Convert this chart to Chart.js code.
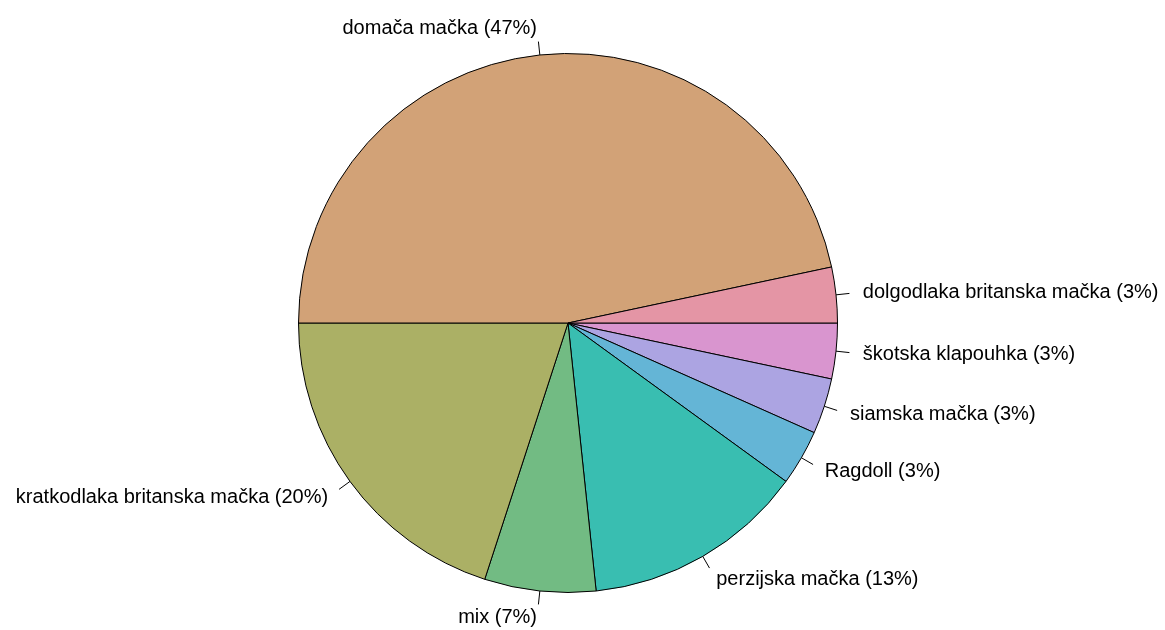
<!doctype html>
<html lang="sl">
<head>
<meta charset="UTF-8" />
<title>Pasme mačk</title>
<script src="https://cdn.jsdelivr.net/npm/chart.js"></script>
<style>
  html, body { margin: 0; padding: 0; background: #fff; }
  #wrap { width: 1165px; height: 630px; position: relative; }
</style>
</head>
<body>
<div id="wrap"><canvas id="pita"></canvas></div>
<script>
// podatki (R: pie, v nasprotni smeri urinega kazalca od 3h)
const pasme = [
  "dolgodlaka britanska mačka",
  "domača mačka",
  "kratkodlaka britanska mačka",
  "mix",
  "perzijska mačka",
  "Ragdoll",
  "siamska mačka",
  "škotska klapouhka"
];
const stevilo = [1, 14, 6, 2, 4, 1, 1, 1];
const odstotki = [3, 47, 20, 7, 13, 3, 3, 3];
const barve = ["#E495A5", "#D2A277", "#ABB065", "#72BB83", "#39BEB1", "#64B5D6", "#ACA4E2", "#D995CF"];

// Chart.js riše v smeri urinega kazalca, zato obrnemo vrstni red
const oznake = pasme.map((p, i) => p + " (" + odstotki[i] + "%)").reverse();
const vrednosti = stevilo.slice().reverse();
const barveR = barve.slice().reverse();

const oznakePlugin = {
  id: "oznake",
  afterDatasetsDraw(chart) {
    const ctx = chart.ctx;
    const arcs = chart.getDatasetMeta(0).data;
    ctx.save();
    ctx.font = "20px 'Liberation Sans', Arial, sans-serif";
    ctx.fillStyle = "#000";
    ctx.strokeStyle = "#000";
    ctx.lineWidth = 1;
    ctx.textBaseline = "middle";
    arcs.forEach((arc, i) => {
      const a = (arc.startAngle + arc.endAngle) / 2;
      const r = arc.outerRadius;
      const c = Math.cos(a), s = Math.sin(a);
      ctx.beginPath();
      ctx.moveTo(arc.x + r * c, arc.y + r * s);
      ctx.lineTo(arc.x + 1.05 * r * c, arc.y + 1.05 * r * s);
      ctx.stroke();
      ctx.textAlign = c < 0 ? "right" : "left";
      ctx.fillText(oznake[i], arc.x + 1.1 * r * c, arc.y + 1.1 * r * s);
    });
    ctx.restore();
  }
};

new Chart(document.getElementById("pita").getContext("2d"), {
  type: "pie",
  data: {
    labels: oznake,
    datasets: [{
      data: vrednosti,
      backgroundColor: barveR,
      borderColor: "#000",
      borderWidth: 1,
      hoverOffset: 0,
      offset: 0
    }]
  },
  options: {
    responsive: true,
    maintainAspectRatio: false,
    animation: false,
    rotation: 90,
    layout: { padding: { left: 298, right: 327, top: 53, bottom: 37 } },
    plugins: {
      legend: { display: false },
      tooltip: { enabled: false }
    },
    events: []
  },
  plugins: [oznakePlugin]
});
</script>
</body>
</html>
